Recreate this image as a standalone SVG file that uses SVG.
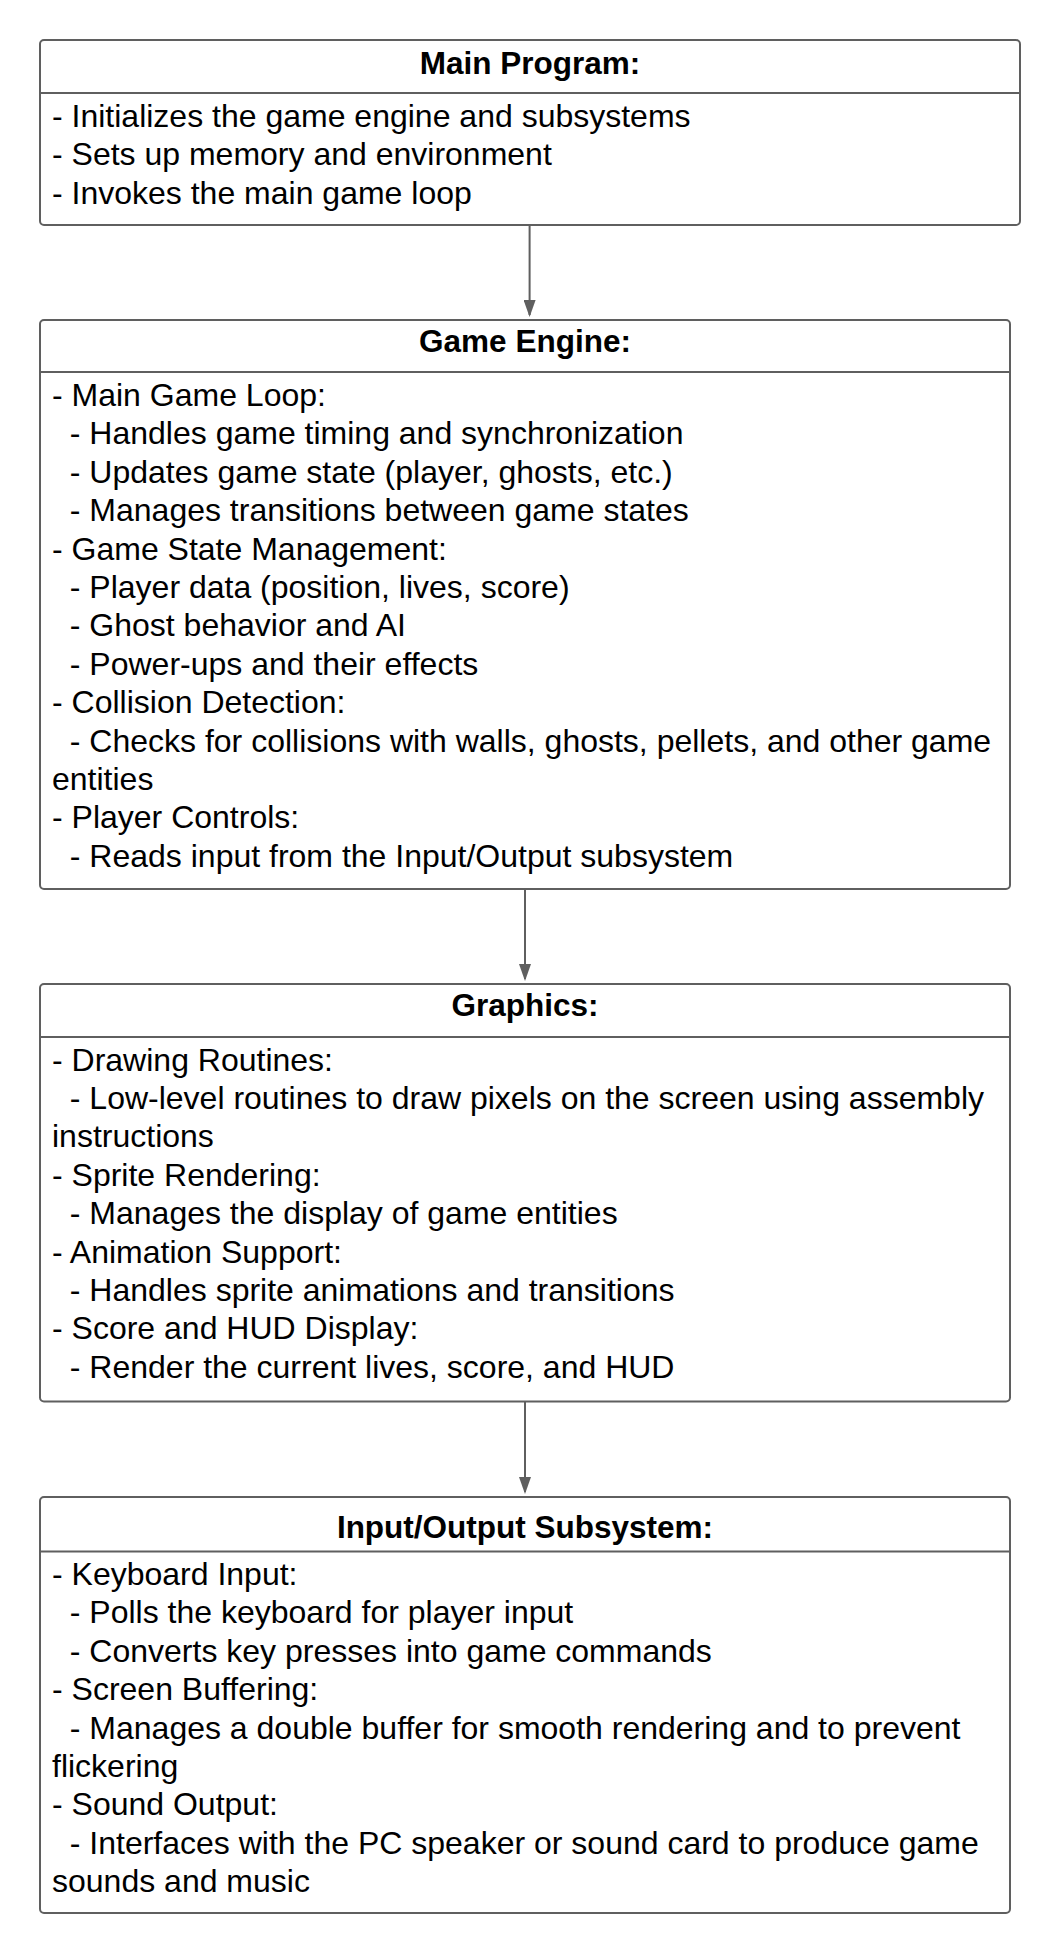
<svg xmlns="http://www.w3.org/2000/svg" width="1060" height="1953" viewBox="0 0 1060 1953">
<style>
.box{fill:#ffffff;stroke:#5f5f5f;stroke-width:2}
.div{stroke:#5f5f5f;stroke-width:2}
.title{font-family:"Liberation Sans",Arial,sans-serif;font-size:31.5px;font-weight:bold;fill:#000;text-anchor:middle}
.body{font-family:"Liberation Sans",Arial,sans-serif;font-size:32px;fill:#000;white-space:pre}
.conn{stroke:#5f5f5f;stroke-width:2;fill:none;marker-end:url(#arrow)}
</style>
<defs>
<marker id="arrow" markerWidth="17" markerHeight="12" refX="15" refY="6" orient="auto" markerUnits="userSpaceOnUse" viewBox="0 0 17 12">
<polygon points="0,0 17,6 0,12" fill="#5f5f5f"/>
</marker>
</defs>
<rect width="1060" height="1953" fill="#ffffff"/>
<g id="connectors">
<line class="conn" x1="529.6" y1="225" x2="529.6" y2="315"/>
<line class="conn" x1="525" y1="889" x2="525" y2="979"/>
<line class="conn" x1="525" y1="1402" x2="525" y2="1492"/>
</g>
<g id="main-program">
<rect class="box" x="40" y="40" width="980" height="185" rx="4"/>
<line class="div" x1="40" y1="93" x2="1020" y2="93"/>
<text class="title" x="530" y="74">Main Program:</text>
<text class="body" xml:space="preserve"><tspan x="52" y="126.5">- Initializes the game engine and subsystems</tspan><tspan x="52" y="165">- Sets up memory and environment</tspan><tspan x="52" y="203.5">- Invokes the main game loop</tspan></text>
</g>
<g id="game-engine">
<rect class="box" x="40" y="320" width="970" height="569" rx="4"/>
<line class="div" x1="40" y1="372" x2="1010" y2="372"/>
<text class="title" x="525" y="352">Game Engine:</text>
<text class="body" xml:space="preserve"><tspan x="52" y="406">- Main Game Loop:</tspan><tspan x="52" y="444.4">  - Handles game timing and synchronization</tspan><tspan x="52" y="482.8">  - Updates game state (player, ghosts, etc.)</tspan><tspan x="52" y="521.2">  - Manages transitions between game states</tspan><tspan x="52" y="559.6">- Game State Management:</tspan><tspan x="52" y="598">  - Player data (position, lives, score)</tspan><tspan x="52" y="636.4">  - Ghost behavior and AI</tspan><tspan x="52" y="674.8">  - Power-ups and their effects</tspan><tspan x="52" y="713.2">- Collision Detection:</tspan><tspan x="52" y="751.6">  - Checks for collisions with walls, ghosts, pellets, and other game</tspan><tspan x="52" y="790">entities</tspan><tspan x="52" y="828.4">- Player Controls:</tspan><tspan x="52" y="866.8">  - Reads input from the Input/Output subsystem</tspan></text>
</g>
<g id="graphics">
<rect class="box" x="40" y="984" width="970" height="417.5" rx="4"/>
<line class="div" x1="40" y1="1037" x2="1010" y2="1037"/>
<text class="title" x="525" y="1016">Graphics:</text>
<text class="body" xml:space="preserve"><tspan x="52" y="1070.5">- Drawing Routines:</tspan><tspan x="52" y="1108.9">  - Low-level routines to draw pixels on the screen using assembly</tspan><tspan x="52" y="1147.3">instructions</tspan><tspan x="52" y="1185.7">- Sprite Rendering:</tspan><tspan x="52" y="1224.1">  - Manages the display of game entities</tspan><tspan x="52" y="1262.5">- Animation Support:</tspan><tspan x="52" y="1300.9">  - Handles sprite animations and transitions</tspan><tspan x="52" y="1339.3">- Score and HUD Display:</tspan><tspan x="52" y="1377.7">  - Render the current lives, score, and HUD</tspan></text>
</g>
<g id="io-subsystem">
<rect class="box" x="40" y="1497" width="970" height="416" rx="4"/>
<line class="div" x1="40" y1="1551.5" x2="1010" y2="1551.5"/>
<text class="title" x="525" y="1538">Input/Output Subsystem:</text>
<text class="body" xml:space="preserve"><tspan x="52" y="1585">- Keyboard Input:</tspan><tspan x="52" y="1623.4">  - Polls the keyboard for player input</tspan><tspan x="52" y="1661.8">  - Converts key presses into game commands</tspan><tspan x="52" y="1700.2">- Screen Buffering:</tspan><tspan x="52" y="1738.6">  - Manages a double buffer for smooth rendering and to prevent</tspan><tspan x="52" y="1777">flickering</tspan><tspan x="52" y="1815.4">- Sound Output:</tspan><tspan x="52" y="1853.8">  - Interfaces with the PC speaker or sound card to produce game</tspan><tspan x="52" y="1892.2">sounds and music</tspan></text>
</g>
</svg>
